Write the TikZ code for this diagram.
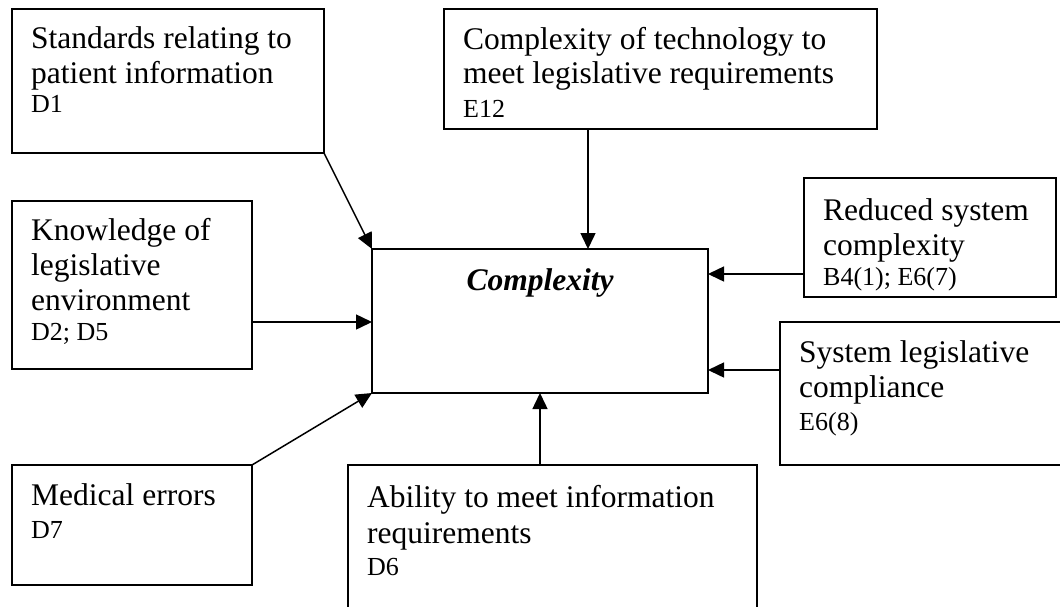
\documentclass[tikz,border=0pt]{standalone}
\usepackage{fontspec}
\setmainfont{Liberation Serif}
\usetikzlibrary{arrows.meta}
\begin{document}
\begin{tikzpicture}[x=1pt,y=-1pt,
  box/.style={draw, line width=1.5pt, rectangle, inner sep=0pt, outer sep=0pt, anchor=north west},
  txt/.style={anchor=base west, inner sep=0pt, font=\fontsize{31.5}{35}\selectfont},
  code/.style={anchor=base west, inner sep=0pt, font=\fontsize{26}{30}\selectfont},
  arr/.style={draw, line width=1.5pt, -{Triangle[length=16pt,width=15pt]}}]
\useasboundingbox (0,0) rectangle (1060,606);
\clip (0,0) rectangle (1060,606);

% boxes
\node[box, minimum width=312pt, minimum height=144pt] (std)  at (12,9)   {};
\node[box, minimum width=433pt, minimum height=120pt] (tech) at (444,9)  {};
\node[box, minimum width=252pt, minimum height=119pt] (red)  at (804,178) {};
\node[box, minimum width=240pt, minimum height=168pt] (know) at (12,201) {};
\node[box, minimum width=336pt, minimum height=144pt] (core) at (372,249) {};
\node[box, minimum width=286pt, minimum height=143pt] (cmp)  at (780,322) {};
\node[box, minimum width=240pt, minimum height=120pt] (med)  at (12,465) {};
\node[box, minimum width=409pt, minimum height=155pt] (abil) at (348,465) {};

% box texts
\node[txt]  (std1) at (31,48)  {Standards relating to};
\node[txt]  (std2) at (31,83)  {patient information};
\node[code] (std3) at (31,112) {D1};

\node[txt]  (tech1) at (463,49)  {Complexity of technology to};
\node[txt]  (tech2) at (463,83)  {meet legislative requirements};
\node[code] (tech3) at (463,117) {E12};

\node[txt]  (red1) at (823,220) {Reduced system};
\node[txt]  (red2) at (823,255) {complexity};
\node[code] (red3) at (823,285) {B4(1); E6(7)};

\node[txt]  (know1) at (31,240) {Knowledge of};
\node[txt]  (know2) at (31,275) {legislative};
\node[txt]  (know3) at (31,310) {environment};
\node[code] (know4) at (31,340) {D2; D5};

\node[anchor=base, inner sep=0pt, font=\fontsize{31.5}{35}\selectfont\bfseries\itshape]
  (core1) at (540,290) {Complexity};

\node[txt]  (cmp1) at (799,362) {System legislative};
\node[txt]  (cmp2) at (799,397) {compliance};
\node[code] (cmp3) at (799,430) {E6(8)};

\node[txt]  (med1) at (31,505) {Medical errors};
\node[code] (med2) at (31,538) {D7};

\node[txt]  (abil1) at (367,507) {Ability to meet information};
\node[txt]  (abil2) at (367,543) {requirements};
\node[code] (abil3) at (367,575) {D6};

% connectors
\draw[arr] (std.south east) -- (core.north west);
\draw[arr] ([xshift=-72.5pt]tech.south) -- ([xshift=-72.5pt]tech.south |- core.north);
\draw[arr] ([yshift=-36.5pt]red.west) -- ([yshift=-36.5pt]red.west -| core.east);
\draw[arr] ([yshift=-37pt]know.east) -- ([yshift=-37pt]know.east -| core.west);
\draw[arr] ([yshift=23.5pt]cmp.west) -- ([yshift=23.5pt]cmp.west -| core.east);
\draw[arr] (med.north east) -- (core.south west);
\draw[arr] (core.south |- abil.north) -- (core.south);
\end{tikzpicture}
\end{document}
